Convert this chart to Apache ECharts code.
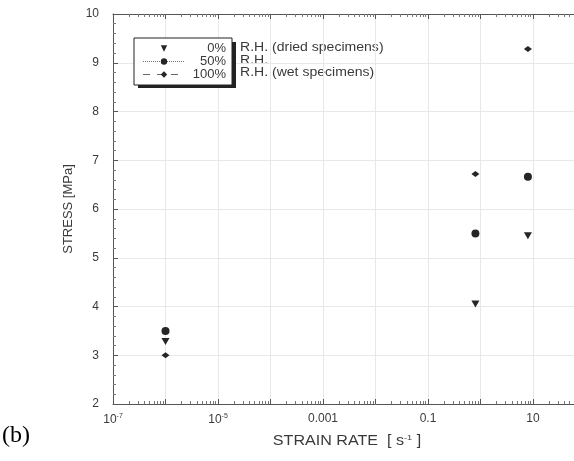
<!DOCTYPE html>
<html><head><meta charset="utf-8">
<script src="https://cdn.jsdelivr.net/npm/echarts@6/dist/echarts.min.js"></script>
<style>html,body{margin:0;padding:0;background:#fff;overflow:hidden}#c{width:640px;height:461px}</style>
</head><body><div id="c"></div>
<script>
// Data
const strainRates = [1e-6, 0.8, 8];
const rh0 = [3.28, 4.05, 5.45];    // 0% R.H. (dried specimens)
const rh50 = [3.50, 5.50, 6.66];   // 50% R.H.
const rh100 = [3.00, 6.72, 9.28];  // 100% R.H. (wet specimens)
const seriesNames = ['0%', '50%', '100%'];
const seriesNotes = ['R.H. (dried specimens)', 'R.H.', 'R.H. (wet specimens)'];
const xTickLabels = {'-7': '10{sup|-7}', '-5': '10{sup|-5}', '-3': '0.001', '-1': '0.1', '1': '10'};
const yTicks = [2, 3, 4, 5, 6, 7, 8, 9, 10];

const ink = '#262626';
const axisCol = '#555';
const txt = '#3a3a3a';
const pair = (ys) => strainRates.map((x, i) => [x, ys[i]]);

const xBase = {
  type: 'log', min: 1e-7, max: 1e3, logBase: 10, interval: 1,
  axisLine: {lineStyle: {color: axisCol, width: 1}},
  axisTick: {inside: true, length: 5, lineStyle: {color: axisCol}},
  minorTick: {show: true, splitNumber: 9, length: 3, lineStyle: {color: '#777'}}
};

const chart = echarts.init(document.getElementById('c'));
chart.setOption({
  backgroundColor: '#fff',
  animation: false,
  grid: {left: 113, top: 14, bottom: 57, right: 2, outerBoundsMode: 'none', containLabel: false},
  xAxis: [Object.assign({}, xBase, {
    splitLine: {show: true, lineStyle: {color: '#e8e8e8', width: 1}},
    axisLabel: {
      color: txt, fontSize: 12, fontFamily: 'Liberation Sans', margin: 9,
      formatter: function (v) {
        const e = Math.round(Math.log10(v));
        return xTickLabels[String(e)] || '';
      },
      rich: {sup: {fontSize: 7, verticalAlign: 'top', padding: [0, 0, 6, 0], color: txt}}
    }
  }), Object.assign({}, xBase, {
    position: 'top', axisLabel: {show: false}, splitLine: {show: false}
  })],
  yAxis: {
    type: 'value', min: yTicks[0], max: yTicks[yTicks.length - 1], interval: 1,
    name: 'STRESS [MPa]', nameLocation: 'middle', nameGap: 33,
    nameTextStyle: {color: txt, fontSize: 13, fontFamily: 'Liberation Sans'},
    axisLine: {show: true, lineStyle: {color: axisCol, width: 1}},
    axisTick: {show: true, inside: true, length: 5, lineStyle: {color: axisCol}},
    minorTick: {show: true, splitNumber: 5, length: 3, lineStyle: {color: '#777'}},
    splitLine: {show: true, lineStyle: {color: '#e8e8e8', width: 1}},
    axisLabel: {color: txt, fontSize: 12, fontFamily: 'Liberation Sans', margin: 14}
  },
  legend: {
    orient: 'vertical', left: 134, top: 38, z: 10,
    padding: [4, 6, 4, 8], itemGap: 0, itemWidth: 42, itemHeight: 8,
    backgroundColor: '#fff', borderColor: '#222', borderWidth: 1,
    formatter: '{a|{name}}',
    textStyle: {color: txt, fontSize: 13, fontFamily: 'Liberation Sans', padding: [0, 0, 0, 0],
      rich: {a: {width: 36, lineHeight: 12, align: 'right', fontSize: 13, color: txt, fontFamily: 'Liberation Sans'}}},
    data: [
      {name: seriesNames[0], lineStyle: {opacity: 0}},
      {name: seriesNames[1], lineStyle: {opacity: 1, type: 'dotted', width: 1, color: '#777'}},
      {name: seriesNames[2], lineStyle: {opacity: 1, type: [7, 7], width: 1, color: '#666'}}
    ]
  },
  graphic: [
    {type: 'rect', z: 5, shape: {x: 138, y: 42, width: 98, height: 46}, style: {fill: '#222'}},
    {type: 'text', x: 240, y: 48, scaleX: 1.17, style: {text: seriesNotes[0], fill: txt, font: '12px "Liberation Sans"', verticalAlign: 'middle'}},
    {type: 'text', x: 240, y: 61, scaleX: 1.17, style: {text: seriesNotes[1], fill: txt, font: '12px "Liberation Sans"', verticalAlign: 'middle'}},
    {type: 'text', x: 240, y: 73, scaleX: 1.17, style: {text: seriesNotes[2], fill: txt, font: '12px "Liberation Sans"', verticalAlign: 'middle'}},
    {type: 'text', x: 347, y: 441, scaleX: 1.15, style: {text: 'STRAIN RATE  [ s{sup|-1} ]', fill: txt, font: '14px "Liberation Sans"', align: 'center', verticalAlign: 'middle',
      rich: {sup: {fontSize: 8, verticalAlign: 'top', padding: [0, 0, 7, 0], fill: txt}}}},
    {type: 'text', left: 2, top: 424, style: {text: '(b)', fill: '#000', font: '24px "Liberation Serif"'}}
  ],
  series: [
    {name: seriesNames[0], type: 'line', data: pair(rh0), symbol: 'triangle', symbolRotate: 180, symbolSize: [8, 7],
      itemStyle: {color: ink}, lineStyle: {opacity: 0}},
    {name: seriesNames[1], type: 'line', data: pair(rh50), symbol: 'circle', symbolSize: 8,
      itemStyle: {color: ink}, lineStyle: {opacity: 0, type: 'dotted'}},
    {name: seriesNames[2], type: 'line', data: pair(rh100), symbol: 'diamond', symbolSize: [8, 6],
      itemStyle: {color: ink}, lineStyle: {opacity: 0, type: 'dashed'}}
  ]
});
</script></body></html>
